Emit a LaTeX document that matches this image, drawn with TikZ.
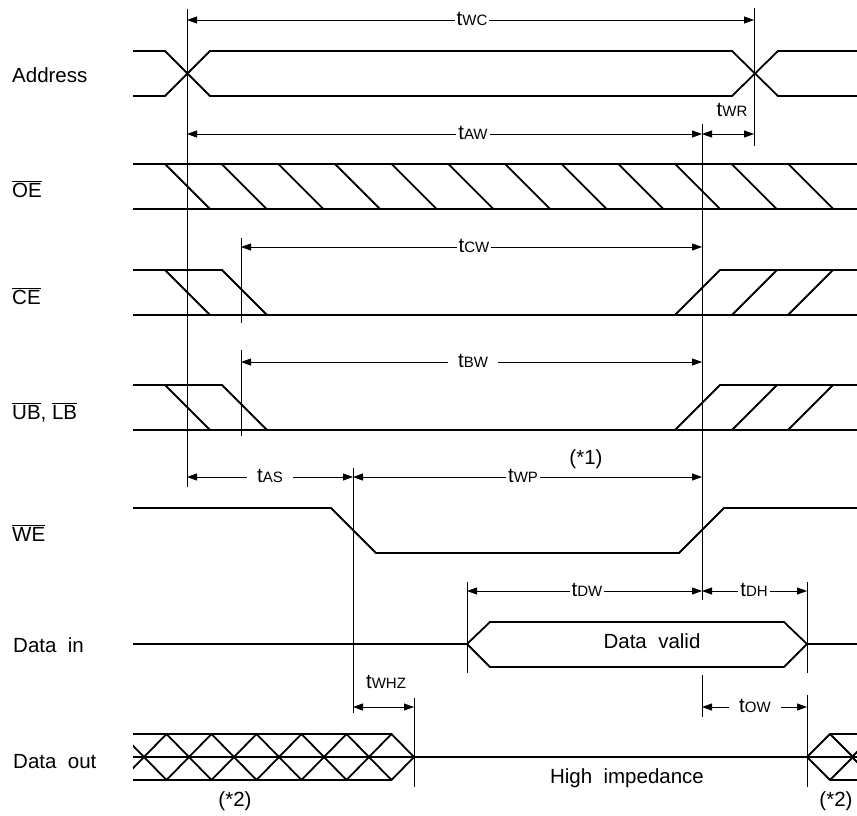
\documentclass[tikz,border=0pt]{standalone}
\usepackage{fontspec}
\setmainfont{Liberation Sans}
\usetikzlibrary{arrows.meta}
\newcommand\tsub[1]{t{\fontsize{15}{16}\selectfont #1}}
\newcommand\ovl[1]{$\overline{\hbox{#1}}$}
\tikzset{
  sig/.style={line width=1.8pt},
  guide/.style={line width=0.8pt},
  dim/.style={line width=0.8pt,{Triangle[length=10pt,width=7pt]}-{Triangle[length=10pt,width=7pt]}},
  lbl/.style={font=\fontsize{20.5}{24}\selectfont, inner sep=0pt},
  tlab/.style={font=\fontsize{20.5}{24}\selectfont, fill=white, inner xsep=2pt, inner ysep=0pt},
  tlabw/.style={tlab, inner xsep=10pt},
}
\begin{document}
\begin{tikzpicture}[x=1pt,y=-1pt]
\useasboundingbox (0,0) rectangle (857,816);

% signal names
\node[lbl,anchor=base west] (nAddr) at (12,83) {Address};
\node[lbl,anchor=base west] (nOE) at (12,197) {\ovl{OE}};
\node[lbl,anchor=base west] (nCE) at (12,304) {\ovl{CE}};
\node[lbl,anchor=base west] (nUB) at (12,419) {\ovl{UB}, \ovl{LB}};
\node[lbl,anchor=base west] (nWE) at (12,541) {\ovl{WE}};
\node[lbl,anchor=base west] (nDin) at (13,652) {Data\ \ in};
\node[lbl,anchor=base west] (nDout) at (13,768) {Data\ \ out};

% Address
\draw[sig] (133,51)--(165,51)--(210,96)--(732,96)--(778,51)--(857,51);
\draw[sig] (133,96)--(165,96)--(210,51)--(732,51)--(778,96)--(857,96);

% OE hatched
\draw[sig] (133,164)--(857,164);
\draw[sig] (133,209)--(857,209);
\foreach \k in {0,...,11}{
  \draw[sig] ({165+56.67*\k},164)--({210+56.67*\k},209);
}

% CE
\draw[sig] (133,270)--(222,270)--(267,315);
\draw[sig] (165,270)--(210,315);
\draw[sig] (133,315)--(857,315);
\draw[sig] (675,315)--(720,270)--(857,270);
\draw[sig] (732,315)--(777,270);
\draw[sig] (788,315)--(833,270);

% UB, LB
\draw[sig] (133,385)--(222,385)--(267,430);
\draw[sig] (165,385)--(210,430);
\draw[sig] (133,430)--(857,430);
\draw[sig] (675,430)--(720,385)--(857,385);
\draw[sig] (732,430)--(777,385);
\draw[sig] (788,430)--(833,385);

% WE
\draw[sig] (133,508)--(331,508)--(376,553)--(679,553)--(724,508)--(857,508);

% Data in
\draw[sig] (133,644)--(467,644);
\draw[sig] (467,644)--(490,622)--(784,622)--(807,644)--(784,667)--(490,667)--cycle;
\draw[sig] (807,644)--(857,644);
\node[lbl,anchor=base] (dvalid) at (652,648) {Data\ \ valid};

% Data out
\draw[sig] (133,757)--(857,757);
\begin{scope}
  \clip (133,715) rectangle (415,800);
  \foreach \k in {-1,...,5}{
    \draw[sig,line join=bevel] ({166.5+45*\k-22.5},757)--({166.5+45*\k},734)--({166.5+45*\k+22.5},757)--({166.5+45*\k},780)--cycle;
  }
\end{scope}
\draw[sig] (133,734)--(391.5,734);
\draw[sig] (133,780)--(391.5,780);
\begin{scope}
  \clip (806,715) rectangle (857,800);
  \foreach \c in {830,875}{
    \draw[sig,line join=bevel] ({\c-23},757)--(\c,734)--({\c+23},757)--(\c,780)--cycle;
  }
\end{scope}
\draw[sig] (830,734)--(857,734);
\draw[sig] (830,780)--(857,780);
\node[lbl,anchor=base] (hiz) at (627,783) {High\ \ impedance};
\node[lbl,anchor=base] (n2a) at (235,806) {(*2)};
\node[lbl,anchor=base] (n2b) at (836,806) {(*2)};

% guide lines
\coordinate (g187a) at (187,9);   \coordinate (g187b) at (187,487);
\coordinate (g754a) at (754,8);   \coordinate (g754b) at (754,146);
\coordinate (g702a) at (702,124); \coordinate (g702b) at (702,600);
\coordinate (g241a) at (241,238); \coordinate (g241b) at (241,323);
\coordinate (g241c) at (241,350); \coordinate (g241d) at (241,436);
\coordinate (g353a) at (353,468); \coordinate (g353b) at (353,713);
\coordinate (g467a) at (467,582); \coordinate (g467b) at (467,673);
\coordinate (g807a) at (807,582); \coordinate (g807b) at (807,673);
\coordinate (g807c) at (807,695); \coordinate (g807d) at (807,787);
\coordinate (g414a) at (414,698); \coordinate (g414b) at (414,787);
\coordinate (g702c) at (702,675); \coordinate (g702d) at (702,717);
\draw[guide] (g187a)--(g187b);
\draw[guide] (g754a)--(g754b);
\draw[guide] (g702a)--(g702b);
\draw[guide] (g241a)--(g241b);
\draw[guide] (g241c)--(g241d);
\draw[guide] (g353a)--(g353b);
\draw[guide] (g467a)--(g467b);
\draw[guide] (g807a)--(g807b);
\draw[guide] (g807c)--(g807d);
\draw[guide] (g414a)--(g414b);
\draw[guide] (g702c)--(g702d);

% dimension arrows
\coordinate (wcA) at (187,20);  \coordinate (wcB) at (754,20);
\coordinate (awA) at (187,134); \coordinate (awB) at (702,134);
\coordinate (wrB) at (754,134);
\coordinate (cwA) at (241,247); \coordinate (cwB) at (702,247);
\coordinate (bwA) at (241,362); \coordinate (bwB) at (702,362);
\coordinate (asA) at (187,477); \coordinate (asB) at (353,477);
\coordinate (wpB) at (702,477);
\coordinate (dwA) at (467,591); \coordinate (dwB) at (702,591);
\coordinate (dhB) at (807,591);
\coordinate (whzA) at (353,707); \coordinate (whzB) at (414,707);
\coordinate (owA) at (702,707); \coordinate (owB) at (807,707);

\draw[dim] (wcA)--(wcB);
\draw[dim] (awA)--(awB);
\draw[dim] (awB)--(wrB);
\draw[dim] (cwA)--(cwB);
\draw[dim] (bwA)--(bwB);
\draw[dim] (asA)--(asB);
\draw[dim] (asB)--(wpB);
\draw[dim] (dwA)--(dwB);
\draw[dim] (dwB)--(dhB);
\draw[dim] (whzA)--(whzB);
\draw[dim] (owA)--(owB);

\node[tlab] (lwc) at (472,19) {\tsub{WC}};
\node[tlab] (law) at (473,133) {\tsub{AW}};
\node[tlab] (lcw) at (474,246) {\tsub{CW}};
\node[tlabw] (lbw) at (473,361) {\tsub{BW}};
\node[tlabw] (las) at (270,476) {\tsub{AS}};
\node[tlab] (lwp) at (523,476) {\tsub{WP}};
\node[tlab] (ldw) at (587,590) {\tsub{DW}};
\node[tlab] (ldh) at (754,590) {\tsub{DH}};
\node[tlabw] (low) at (755,706) {\tsub{OW}};
\node[lbl,anchor=base] (lwr) at (732,117) {\tsub{WR}};
\node[lbl,anchor=base] (lwhz) at (386,688) {\tsub{WHZ}};
\node[lbl,anchor=base] (n1) at (586,464) {(*1)};
\end{tikzpicture}
\end{document}
